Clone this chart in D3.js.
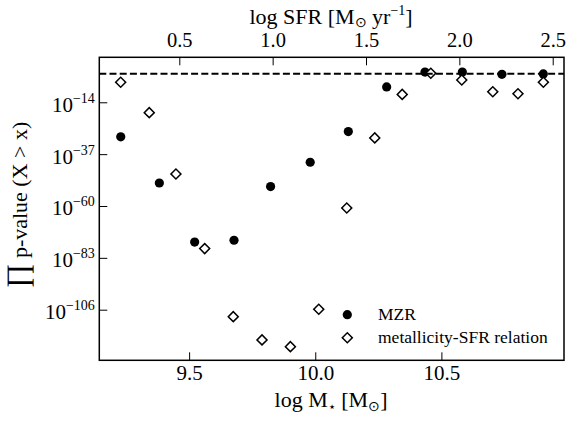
<!DOCTYPE html>
<html>
<head>
<meta charset="utf-8">
<script src="https://cdn.jsdelivr.net/npm/d3@7"></script>
<style>
  html, body { margin: 0; padding: 0; background: #fff; }
</style>
</head>
<body>
<script>
// ---- data ----
const mzrMass = [9.229, 9.382, 9.522, 9.678, 9.823, 9.980, 10.131, 10.283, 10.435, 10.583, 10.740, 10.904];
const mzrLogP = [-29.3, -49.8, -76.0, -75.2, -51.4, -40.6, -27.0, -7.2, -0.6, -0.6, -1.6, -1.4];
const sfrBins = [0.186, 0.339, 0.482, 0.636, 0.789, 0.943, 1.095, 1.247, 1.397, 1.547, 1.694, 1.847, 2.013, 2.179, 2.314, 2.450];
const sfrLogP = [-5.1, -18.6, -45.8, -78.9, -109.1, -119.4, -122.4, -105.8, -60.9, -29.8, -10.5, -1.1, -4.1, -9.3, -10.2, -5.1];
const massTicks = [9.5, 10.0, 10.5];
const sfrTicks = [0.5, 1.0, 1.5, 2.0, 2.5];
const logPTicks = [-106, -83, -60, -37, -14];
const pThreshold = 0.05;
const legendLabels = ["MZR", "metallicity-SFR relation"];

// ---- layout ----
const FONT = "Liberation Serif";
const W = 577, H = 423;
const L = 99.3, R = 564, T = 57.3, B = 360.3;

const x = d3.scaleLinear().domain([9.144, 10.986]).range([L, R]);
const xTop = d3.scaleLinear().domain([0.0715, 2.5605]).range([L, R]);
const y = d3.scaleLinear().domain([-128.45, 5.96]).range([B, T]);

const svg = d3.select("body").append("svg").attr("width", W).attr("height", H)
  .attr("font-family", FONT).style("display", "block");

// markers
const circles = mzrMass.map((m, i) => ({ m, p: mzrLogP[i] }));
const diamonds = sfrBins.map((s, i) => ({ s, p: sfrLogP[i] }));
const dia = d3.symbol().type(d3.symbolSquare).size(50);

svg.append("g").selectAll("circle").data(circles).join("circle")
  .attr("cx", d => x(d.m)).attr("cy", d => y(d.p)).attr("r", 4.6).attr("fill", "#000");

svg.append("g").selectAll("path").data(diamonds).join("path")
  .attr("d", dia)
  .attr("transform", d => `translate(${xTop(d.s)},${y(d.p)}) rotate(45)`)
  .attr("fill", "#fff").attr("stroke", "#000").attr("stroke-width", 1.5);

// threshold dashed line
svg.append("line")
  .attr("x1", L).attr("x2", R)
  .attr("y1", y(Math.log10(pThreshold))).attr("y2", y(Math.log10(pThreshold)))
  .attr("stroke", "#000").attr("stroke-width", 2).attr("stroke-dasharray", "7,3.2");

// axes
const gx = svg.append("g").attr("transform", `translate(0,${B})`)
  .call(d3.axisBottom(x).tickValues(massTicks).tickSize(-8).tickSizeOuter(0).tickFormat(d3.format(".1f")));
gx.attr("font-family", FONT);
gx.select(".domain").remove();
gx.selectAll(".tick line").attr("stroke", "#000").attr("stroke-width", 1);
gx.selectAll("text").attr("y", 19.7).attr("dy", 0).attr("font-size", 21).attr("fill", "#000")
  .attr("font-family", FONT);

const gt = svg.append("g").attr("transform", `translate(0,${T})`)
  .call(d3.axisTop(xTop).tickValues(sfrTicks).tickSize(-8).tickSizeOuter(0).tickFormat(d3.format(".1f")));
gt.attr("font-family", FONT);
gt.select(".domain").remove();
gt.selectAll(".tick line").attr("stroke", "#000").attr("stroke-width", 1);
gt.selectAll("text").attr("y", -10.3).attr("dy", 0).attr("font-size", 20.5).attr("fill", "#000")
  .attr("font-family", FONT);

const gy = svg.append("g").attr("transform", `translate(${L},0)`)
  .call(d3.axisLeft(y).tickValues(logPTicks).tickSize(-8).tickSizeOuter(0).tickFormat(() => ""));
gy.attr("font-family", FONT);
gy.select(".domain").remove();
gy.selectAll(".tick line").attr("stroke", "#000").attr("stroke-width", 1);
gy.selectAll(".tick text").each(function(d) {
  const t = d3.select(this).attr("x", -4.5).attr("y", 0).attr("dy", 9)
    .attr("text-anchor", "end").attr("fill", "#000").attr("font-family", FONT);
  t.append("tspan").attr("font-size", 21).text("10");
  t.append("tspan").attr("font-size", 14).attr("dy", -9).text("\u2212" + Math.abs(d));
});

// frame
svg.append("rect").attr("x", L).attr("y", T).attr("width", R - L).attr("height", B - T)
  .attr("fill", "none").attr("stroke", "#000").attr("stroke-width", 1.5);

// axis labels
const xl = svg.append("text").attr("x", 331).attr("y", 406.7).attr("text-anchor", "middle")
  .attr("font-size", 22).attr("fill", "#000").attr("font-family", FONT);
xl.append("tspan").text("log M");
xl.append("tspan").attr("font-size", 13).attr("dy", 4).text("\u22C6");
xl.append("tspan").attr("dy", -4).text(" [M");
xl.append("tspan").attr("font-size", 14).attr("dy", 4).text("\u2299");
xl.append("tspan").attr("dy", -4).text("]");

const tl = svg.append("text").attr("x", 331).attr("y", 23.8).attr("text-anchor", "middle")
  .attr("font-size", 22).attr("fill", "#000").attr("font-family", FONT);
tl.append("tspan").text("log SFR [M");
tl.append("tspan").attr("font-size", 14).attr("dy", 3.5).text("\u2299");
tl.append("tspan").attr("dy", -3.5).text(" yr");
tl.append("tspan").attr("font-size", 14).attr("dy", -9).text("\u22121");
tl.append("tspan").attr("dy", 9).text("]");

const yl = svg.append("text").attr("transform", "translate(27,205) rotate(-90)")
  .attr("text-anchor", "middle").attr("font-size", 22).attr("fill", "#000").attr("font-family", FONT);
yl.append("tspan").attr("font-size", 30).text("\u220F");
yl.append("tspan").text(" p-value (X > x)");

// legend
const lg = svg.append("g").attr("font-family", FONT);
lg.append("circle").attr("cx", 347.3).attr("cy", 314.7).attr("r", 4.6).attr("fill", "#000");
lg.append("path").attr("d", dia).attr("transform", "translate(347.3,337.7) rotate(45)")
  .attr("fill", "#fff").attr("stroke", "#000").attr("stroke-width", 1.5);
lg.append("text").attr("x", 378).attr("y", 320).attr("font-size", 17.5).text(legendLabels[0]);
lg.append("text").attr("x", 378).attr("y", 342.7).attr("font-size", 17.5).text(legendLabels[1]);
</script>
</body>
</html>
